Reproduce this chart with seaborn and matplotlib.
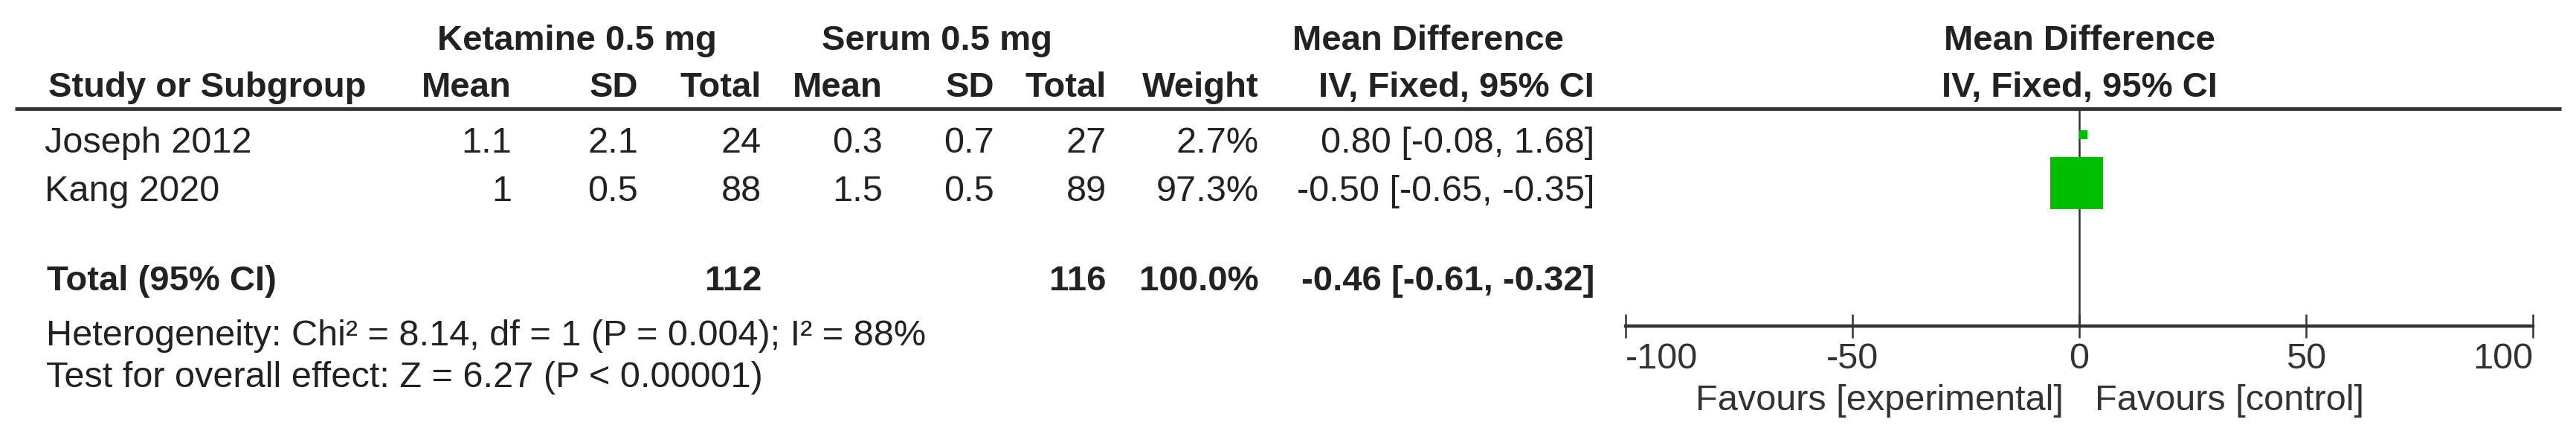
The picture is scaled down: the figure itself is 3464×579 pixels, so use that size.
import numpy as np
import pandas as pd
import matplotlib
matplotlib.use("Agg")
import matplotlib.pyplot as plt
import seaborn as sns

# values
studies = ["Joseph 2012", "Kang 2020"]
ket_mean = [1.1, 1]
ket_sd = [2.1, 0.5]
ket_n = [24, 88]
ser_mean = [0.3, 1.5]
ser_sd = [0.7, 0.5]
ser_n = [27, 89]
weight = [2.7, 97.3]
md = [0.80, -0.50]
ci_lo = [-0.08, -0.65]
ci_hi = [1.68, -0.35]

total_ket, total_ser = 112, 116
total_md, total_lo, total_hi = -0.46, -0.61, -0.32
heterogeneity = "Heterogeneity: Chi\u00b2 = 8.14, df = 1 (P = 0.004); I\u00b2 = 88%"
overall = "Test for overall effect: Z = 6.27 (P < 0.00001)"
xticks = [-100, -50, 0, 50, 100]

sns.set_style("white")
plt.rcParams["font.family"] = ["Liberation Sans", "DejaVu Sans"]
plt.rcParams["axes.unicode_minus"] = False

W, H = 3464, 579
FS, FSB = 35, 34
TXT = "#222222"

fig = plt.figure(figsize=(W / 100, H / 100), dpi=100)
fig.patch.set_facecolor("white")
ax = fig.add_axes([0, 0, 1, 1])
ax.set_xlim(0, W)
ax.set_ylim(H, 0)
ax.axis("off")

# layout (pixel baselines / column right edges)
y_grp, y_col, y_tot, y_het, y_test = 67, 130, 390, 464, 520
row_base = [205, 270]
c_km, c_ksd, c_kn = 688, 858, 1024
c_sm, c_ssd, c_sn = 1187, 1337, 1488
c_w, c_ci = 1693, 2144

def t(x, y, s, ha="left", bold=False, **kw):
    ax.text(x, y, s, ha=ha, va="baseline", fontsize=FSB if bold else FS,
            fontweight="bold" if bold else "normal", color=kw.pop("color", TXT), **kw)

# group headers
t(776, y_grp, "Ketamine 0.5 mg", "center", True)
t(1260, y_grp, "Serum 0.5 mg", "center", True)
t(1920, y_grp, "Mean Difference", "center", True)
t(2796, y_grp, "Mean Difference", "center", True)

# column headers
t(65, y_col, "Study or Subgroup", bold=True)
for x, s in [(c_km, "Mean"), (c_ksd, "SD"), (c_kn, "Total"), (c_sm, "Mean"),
             (c_ssd, "SD"), (c_sn, "Total"), (c_w, "Weight"), (c_ci, "IV, Fixed, 95% CI")]:
    t(x, y_col, s, "right", True)
t(2796, y_col, "IV, Fixed, 95% CI", "center", True)

ax.hlines(146, 20, 3444, color="#333333", lw=3.5)

# study rows
for i, yb in enumerate(row_base):
    t(60, yb, studies[i])
    t(c_km, yb, f"{ket_mean[i]:g}", "right")
    t(c_ksd, yb, f"{ket_sd[i]:g}", "right")
    t(c_kn, yb, f"{ket_n[i]}", "right")
    t(c_sm, yb, f"{ser_mean[i]:g}", "right")
    t(c_ssd, yb, f"{ser_sd[i]:g}", "right")
    t(c_sn, yb, f"{ser_n[i]}", "right")
    t(c_w, yb, f"{weight[i]:.1f}%", "right")
    t(c_ci, yb, f"{md[i]:.2f} [{ci_lo[i]:.2f}, {ci_hi[i]:.2f}]", "right")

# total row
t(63, y_tot, "Total (95% CI)", bold=True)
t(c_kn, y_tot, f"{total_ket}", "right", True)
t(c_sn, y_tot, f"{total_ser}", "right", True)
t(c_w, y_tot, f"{sum(weight):.1f}%", "right", True)
t(c_ci, y_tot, f"{total_md:.2f} [{total_lo:.2f}, {total_hi:.2f}]", "right", True)
t(62, y_het, heterogeneity)
t(62, y_test, overall)

# forest panel: x in mean-difference units, y in pixel rows
x0, x1, y_axis = 2186, 3406, 438
fx = fig.add_axes([x0 / W, 0, (x1 - x0) / W, 1])
fx.patch.set_alpha(0)

row_mid = [b - 24 for b in row_base]
df = pd.DataFrame({"md": md, "y": row_mid, "weight": weight})
fx.hlines(row_mid, ci_lo, ci_hi, color="black", lw=1.5)
sns.scatterplot(data=df, x="md", y="y", size="weight",
                sizes={w: w * 26.8 for w in weight}, marker="s",
                color="#00bf00", linewidth=0, legend=False, ax=fx, zorder=3)
fx.vlines(0, 146, y_axis, color="#333333", lw=1.8, zorder=2)

fx.set_xlim(-100, 100)
fx.set_ylim(H, 0)
fx.set_xlabel("")
fx.set_ylabel("")
for s in ["left", "right", "top"]:
    fx.spines[s].set_visible(False)
fx.spines["bottom"].set_position(("data", y_axis))
fx.spines["bottom"].set_linewidth(3.2)
fx.spines["bottom"].set_color("#333333")
fx.set_yticks([])
fx.set_xticks(xticks)
labels = fx.set_xticklabels([str(v) for v in xticks])
labels[0].set_ha("left")
labels[-1].set_ha("right")
fx.tick_params(axis="x", bottom=True, direction="inout", length=23, width=1.8,
               colors="#333333", labelsize=FS, pad=4)
fx.text(-3.5, 551, "Favours [experimental]", ha="right", va="baseline",
        fontsize=FS, color="#333333")
fx.text(3.5, 551, "Favours [control]", ha="left", va="baseline",
        fontsize=FS, color="#333333")

fig.savefig("out.png", dpi=100, facecolor="white")
